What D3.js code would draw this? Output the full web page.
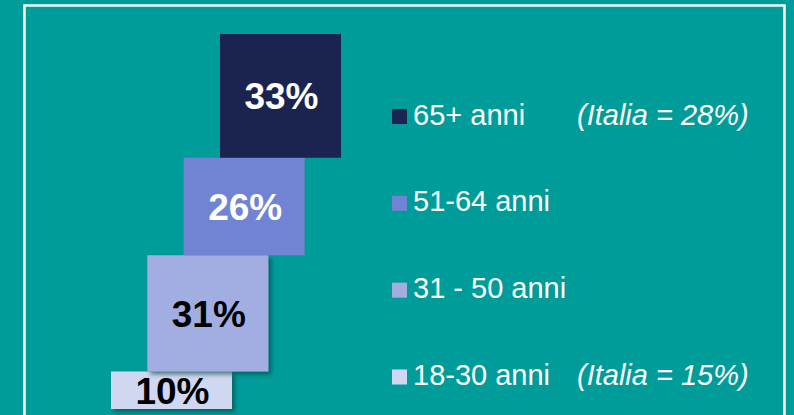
<!DOCTYPE html>
<html><head><meta charset="utf-8">
<script src="https://cdn.jsdelivr.net/npm/d3@7"></script>
<style>html,body{margin:0;padding:0;background:#009C9A;}svg{display:block;}</style>
</head><body><div id="chart"></div>
<script>
// Data (bottom to top)
const categories = ["18-30 anni", "31 - 50 anni", "51-64 anni", "65+ anni"];
const values = [10, 31, 26, 33];
const labels = ["10%", "31%", "26%", "33%"];
const colors = ["#D0D7F1", "#A2AEE2", "#7084D3", "#1B2350"];
const labelColors = ["#000000", "#000000", "#ffffff", "#ffffff"];
const notes = ["(Italia = 15%)", "", "", "(Italia = 28%)"];

const W = 794, H = 415;
const svg = d3.select("#chart").append("svg").attr("width", W).attr("height", H);

svg.append("rect").attr("x",0).attr("y",0).attr("width",W).attr("height",H).attr("fill","#009C9A");
svg.append("rect").attr("x",24.5).attr("y",5.5).attr("width",760).attr("height",430)
  .attr("fill","none").attr("stroke","#fff").attr("stroke-width",2.5);

const defs = svg.append("defs");
const f = defs.append("filter").attr("id","sh").attr("x","-10%").attr("y","-10%").attr("width","130%").attr("height","140%");
f.append("feDropShadow").attr("dx",3).attr("dy",3).attr("stdDeviation",2).attr("flood-color","#00403f").attr("flood-opacity",0.6);

const y = d3.scaleLinear().domain([0, 100]).range([409, 34]);
const x = d3.scaleLinear().domain([0, 3]).range([111, 220]);
const barW = 121;

const stacked = [];
let acc = 0;
values.forEach((v, i) => { stacked.push({i, v, y0: acc, y1: acc + v}); acc += v; });

const g = svg.append("g");
g.selectAll("rect.bar").data(stacked).join("rect")
  .attr("class","bar")
  .attr("x", d => x(d.i))
  .attr("y", d => y(d.y1))
  .attr("width", barW)
  .attr("height", d => y(d.y0) - y(d.y1))
  .attr("fill", d => colors[d.i])
  .attr("filter", d => d.i < 2 ? "url(#sh)" : null);

g.selectAll("text.lbl").data(stacked).join("text")
  .attr("class","lbl")
  .attr("x", d => x(d.i) + barW/2 + 1)
  .attr("y", d => (y(d.y0) + y(d.y1))/2 + 13.5)
  .attr("text-anchor","middle")
  .attr("font-family","Arial, 'Liberation Sans', sans-serif")
  .attr("font-weight","bold")
  .attr("font-size", 37)
  .attr("fill", d => labelColors[d.i])
  .text(d => labels[d.i]);

// Legend (top to bottom)
const legOrder = [3, 2, 1, 0];
const ly = d3.scalePoint().domain(legOrder).range([124.5, 385]);
const leg = svg.append("g");
leg.selectAll("rect").data(legOrder).join("rect")
  .attr("x", 392).attr("y", d => ly(d) - 15.5).attr("width", 15).attr("height", 15)
  .attr("fill", d => colors[d]);
leg.selectAll("text.name").data(legOrder).join("text")
  .attr("class","name")
  .attr("x", 413).attr("y", d => ly(d))
  .attr("font-family","Arial, 'Liberation Sans', sans-serif")
  .attr("font-size", 29).attr("fill","#fff")
  .text(d => categories[d]);
leg.selectAll("text.note").data(legOrder.filter(d => notes[d])).join("text")
  .attr("class","note")
  .attr("x", 577).attr("y", d => ly(d))
  .attr("font-family","Arial, 'Liberation Sans', sans-serif")
  .attr("font-style","italic")
  .attr("font-size", 29).attr("fill","#fff")
  .text(d => notes[d]);
</script></body></html>
